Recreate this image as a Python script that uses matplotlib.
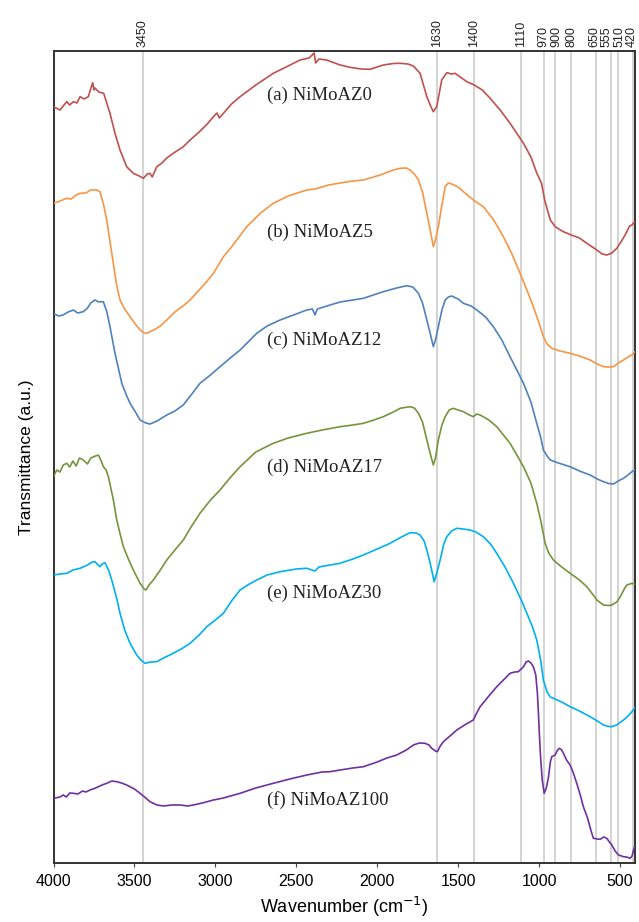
import numpy as np
import matplotlib
matplotlib.use("Agg")
import matplotlib.pyplot as plt
import matplotlib.transforms as mtransforms

# FTIR spectra of the NiMoAZ series (transmittance, arbitrary units, stacked)
w_a = [4000, 3960, 3918, 3900, 3877, 3855, 3836, 3810, 3785, 3758, 3750, 3744, 3720, 3690,
       3651, 3620, 3589, 3548, 3507, 3470, 3445, 3420, 3404, 3390, 3362, 3330, 3300, 3260,
       3200, 3156, 3100, 3050, 3012, 2990, 2975, 2900, 2847, 2750, 2642, 2550, 2477, 2420,
       2390, 2380, 2360, 2312, 2229, 2168, 2100, 2044, 1962, 1900, 1858, 1810, 1776, 1735,
       1693, 1670, 1653, 1632, 1601, 1570, 1540, 1519, 1446, 1400, 1384, 1350, 1302, 1240,
       1179, 1096, 1050, 1014, 985, 965, 948, 930, 900, 850, 800, 750, 705, 643, 610, 581,
       550, 519, 490, 468, 440, 426, 410]
t_a = [756.3, 753, 761.3, 758, 761.3, 760, 766.3, 764, 766.3, 780.3, 773, 775, 771, 769.7,
       749.7, 729.7, 713, 696.3, 689.7, 687, 684.7, 689, 689.7, 686, 696.3, 700, 705, 709.7,
       716, 723, 731, 739, 746.3, 750, 745, 759, 766.3, 778, 789.7, 797, 803, 805,
       810, 800, 804, 803, 798, 795.7, 794, 793.7, 798, 799.5, 799.7, 799, 797, 789.7,
       766.3, 757, 751.3, 756.3, 783, 790.3, 789, 789.7, 781.3, 778, 776.3, 773, 764.7, 753,
       739.7, 719.7, 706, 690, 680, 663, 653, 643, 636.3, 631.3, 628, 625, 619.7, 613, 609, 608,
       610, 614.7, 622, 628, 637, 638, 641]

w_b = [4000, 3960, 3918, 3890, 3860, 3836, 3800, 3770, 3733, 3713, 3690, 3671, 3640, 3610,
       3589, 3560, 3527, 3490, 3465, 3440, 3424, 3380, 3340, 3300, 3250, 3200, 3156, 3100,
       3050, 3012, 2950, 2900, 2806, 2720, 2642, 2550, 2435, 2384, 2300, 2229, 2150, 2085,
       1982, 1900, 1858, 1820, 1797, 1770, 1745, 1720, 1693, 1670, 1653, 1640, 1622, 1600,
       1580, 1560, 1539, 1500, 1467, 1406, 1344, 1280, 1220, 1170, 1117, 1075, 1035, 1000,
       973, 950, 921, 870, 808, 750, 684, 640, 602, 560, 540, 500, 478, 450, 426, 410]
t_b = [659.7, 662, 664.7, 664, 668, 669.7, 670, 673, 673, 671.3, 658, 643, 609.7, 578,
       563, 554, 546.3, 538, 533, 530, 529.7, 533, 537, 543, 551, 557, 563, 573,
       582, 589.7, 606.3, 616, 636.3, 650, 659.7, 667, 673, 674, 678, 680, 682, 683,
       688, 693, 694.7, 695, 693, 689, 683, 671, 649.7, 631, 616.3, 623, 636.3, 658,
       676.3, 680, 679, 676, 671.3, 663, 656.3, 643, 626.3, 610, 589.7, 573, 556.3, 540,
       526.3, 519, 514.7, 512, 509.7, 507, 503, 499, 496.3, 496, 496.3, 501, 503, 506, 508, 511]

w_c = [4000, 3970, 3940, 3910, 3877, 3850, 3816, 3790, 3770, 3744, 3720, 3692, 3670, 3651,
       3620, 3578, 3550, 3527, 3490, 3465, 3430, 3404, 3360, 3300, 3250, 3198, 3150, 3095,
       3030, 2971, 2900, 2847, 2744, 2680, 2600, 2500, 2435, 2400, 2384, 2370, 2291, 2229,
       2150, 2085, 1962, 1880, 1817, 1780, 1745, 1720, 1693, 1670, 1653, 1640, 1622, 1600,
       1580, 1560, 1539, 1500, 1467, 1420, 1384, 1330, 1282, 1230, 1179, 1140, 1096, 1050,
       1014, 990, 973, 950, 931, 880, 808, 750, 684, 640, 602, 570, 540, 510, 478, 450,
       426, 410]
t_c = [549.7, 547, 548, 551, 553, 550, 551.3, 555, 560, 563, 561, 561.3, 551, 536.3,
       509.7, 479.7, 468, 459.7, 450, 443, 440, 439, 442, 448, 452, 458, 468, 479.7,
       488, 496.3, 506, 513, 529.7, 537, 543, 549, 553, 554, 548, 554, 558, 561,
       563, 564.7, 571.3, 575, 577.3, 576, 569.7, 560, 543, 528, 516.3, 523, 536.3, 553,
       563, 566, 567, 564, 559.7, 557, 553, 546, 536.3, 523, 506.3, 494, 479.7, 461,
       439.7, 426, 413, 407, 403, 400, 396.3, 392, 388, 384, 381.3, 379.5, 379, 382, 384.7, 388,
       391.3, 393]

w_d = [4000, 3980, 3960, 3940, 3918, 3900, 3880, 3860, 3840, 3816, 3790, 3770, 3740, 3723,
       3705, 3692, 3675, 3661, 3630, 3609, 3590, 3568, 3540, 3507, 3465, 3440, 3428, 3410,
       3383, 3340, 3300, 3250, 3198, 3150, 3095, 3030, 2971, 2910, 2847, 2750, 2642, 2550,
       2435, 2340, 2229, 2150, 2085, 2020, 1962, 1900, 1858, 1797, 1770, 1745, 1720, 1693,
       1670, 1653, 1640, 1622, 1600, 1580, 1555, 1529, 1500, 1467, 1430, 1406, 1385, 1364,
       1310, 1261, 1220, 1179, 1137, 1096, 1050, 1014, 990, 962, 940, 911, 860, 808, 750,
       705, 660, 643, 602, 570, 550, 520, 498, 470, 457, 426, 410]
t_d = [386.3, 393, 391, 398, 399.7, 396, 402, 397, 405, 403, 399, 405, 407, 408,
       402, 396.3, 393, 386.3, 363, 343, 330, 316.3, 305, 293, 279.7, 274, 273, 278,
       283, 293, 303, 313, 323, 336, 349.7, 363, 373, 385, 396.3, 411, 419.7, 425,
       429.7, 433, 436.3, 438, 439.7, 443, 446.3, 451, 454.7, 456.3, 455, 449.7, 441, 423,
       408, 398, 405, 423, 438, 446.3, 453, 454.7, 453, 451.3, 448, 446.3, 449, 448,
       443, 436.3, 428, 419.7, 408, 396.3, 380, 359.7, 343, 319.7, 310, 303, 296, 289.7, 283,
       276.3, 267, 263, 258, 257.5, 258, 261, 266.3, 275, 278, 279.7, 279]

w_e = [4000, 3960, 3918, 3880, 3836, 3790, 3760, 3744, 3725, 3713, 3700, 3682, 3660, 3640,
       3610, 3589, 3560, 3527, 3500, 3486, 3460, 3434, 3400, 3362, 3320, 3260, 3200, 3156,
       3100, 3053, 3000, 2950, 2900, 2847, 2800, 2744, 2680, 2600, 2500, 2435, 2384, 2360,
       2291, 2229, 2150, 2085, 2000, 1920, 1850, 1797, 1760, 1735, 1710, 1693, 1670, 1648,
       1630, 1611, 1590, 1570, 1540, 1508, 1470, 1426, 1390, 1344, 1300, 1261, 1210, 1158,
       1110, 1075, 1040, 1014, 990, 973, 950, 930, 911, 860, 808, 750, 684, 640, 602, 570,
       550, 520, 478, 450, 426, 410]
t_e = [288, 289, 289.7, 293, 294.7, 298, 301, 301.3, 298, 296.3, 299, 300.3, 293, 283,
       265, 249.7, 233, 219.7, 212, 208, 203, 199.7, 201, 201.3, 205, 209.7, 215, 219.7,
       228, 236.3, 243, 249.7, 262, 273, 278, 283, 288, 291.3, 294, 294.7, 292, 296,
       298, 299.7, 304, 308, 314, 319.7, 326, 330.3, 330, 328, 322, 313, 298, 281.3,
       291, 303, 318, 326.3, 332, 334.7, 334, 333, 331, 326.3, 319, 309.7, 296, 279.7,
       263, 249.7, 236, 223, 203, 183, 171, 166, 164.7, 161, 156.3, 152, 146.3, 142, 138, 136.5,
       136.3, 138, 143, 147, 151.3, 155]

w_f = [4000, 3960, 3940, 3920, 3900, 3877, 3850, 3820, 3800, 3774, 3740, 3700, 3671, 3640,
       3609, 3580, 3548, 3500, 3465, 3430, 3404, 3360, 3321, 3270, 3218, 3170, 3136, 3080,
       3012, 2950, 2847, 2750, 2642, 2540, 2435, 2340, 2291, 2229, 2150, 2085, 2000, 1940,
       1879, 1820, 1776, 1740, 1704, 1680, 1663, 1640, 1628, 1610, 1591, 1550, 1508, 1460,
       1406, 1385, 1364, 1310, 1261, 1220, 1179, 1150, 1128, 1096, 1080, 1065, 1050, 1035,
       1020, 1010, 1003, 998, 992, 989, 980, 968, 955, 941, 930, 921, 901, 885, 874, 860,
       849, 830, 808, 790, 767, 745, 726, 700, 680, 664, 640, 622, 600, 581, 565, 550,
       530, 509, 490, 478, 460, 437, 425, 416, 410]
t_f = [64.7, 66, 68, 66, 70, 69.7, 69, 72, 71, 73, 75, 78, 79.7, 82,
       81.3, 80, 78, 74, 69.7, 65, 61.3, 58, 57, 58, 58, 57, 58, 60,
       63, 65, 69.7, 75, 79.7, 84, 88, 91, 91.3, 93, 95, 96.3, 101, 105,
       108, 113, 118, 120, 119.7, 118, 114.7, 112, 111.3, 117, 121.3, 127, 133, 138,
       143, 150, 156.3, 167, 176.3, 183, 189.7, 191, 191.3, 196.3, 201, 202, 200, 196.3,
       188, 169.7, 148, 129.7, 111, 103, 83, 69.7, 75, 86.3, 101, 106.3, 108, 113, 114.7, 113,
       109.7, 103, 98, 91, 79.7, 68, 56.3, 45, 33, 24.7, 24, 23.7, 26, 24.7, 21, 18,
       12, 8, 7, 6.3, 6, 4.7, 7, 13, 16]

series_w = [w_a, w_b, w_c, w_d, w_e, w_f]
series_t = [t_a, t_b, t_c, t_d, t_e, t_f]
series_labels = ["(a) NiMoAZ0", "(b) NiMoAZ5", "(c) NiMoAZ12",
                 "(d) NiMoAZ17", "(e) NiMoAZ30", "(f) NiMoAZ100"]
series_colors = ["#C0504D", "#F79646", "#4F81BD", "#77933C", "#00B0F0", "#7030A0"]
label_y = [768, 631, 523, 396, 270, 63]

band_positions = [3450, 1630, 1400, 1110, 970, 900, 800, 650, 555, 510, 420]
x_ticks = [4000, 3500, 3000, 2500, 2000, 1500, 1000, 500]

# horizontal nudges (points) so the crowded band labels sit side by side
band_label_shift = [0, 0, 0, 0, -0.6, 0.6, 0, -0.9, -3.0, 0.9, -0.7]

fig = plt.figure(figsize=(6.39, 9.22), dpi=100)
ax = fig.add_axes([53.5 / 639, 59 / 922, 581 / 639, 812 / 922])

# assignment guide lines with their band positions above the frame
trans = mtransforms.blended_transform_factory(ax.transData, ax.transAxes)
for b, dx in zip(band_positions, band_label_shift):
    ax.axvline(b, color="#c8c8c8", lw=1.1, zorder=1)
    ax.annotate(str(b), xy=(b, 1.0), xycoords=trans, xytext=(dx, 3),
                textcoords="offset points", rotation=90, ha="center", va="bottom",
                fontsize=9, family="Liberation Sans", color="#222222")

for w, t, lab, col, ly in zip(series_w, series_t, series_labels, series_colors, label_y):
    ax.plot(w, t, color=col, lw=1.2, zorder=3)
    ax.text(2680, ly, lab, ha="left", va="center", fontsize=13.5,
            family="Liberation Serif", color="#222222", zorder=4)

ax.set_xlim(4000, 410)
ax.set_ylim(0, 812)
ax.set_yticks([])
ax.set_xticks(x_ticks)
ax.set_xticklabels([str(v) for v in x_ticks], family="Liberation Sans", fontsize=11.5)
ax.tick_params(axis="x", length=3, width=0.8, pad=5, color="#444444")
for s in ax.spines.values():
    s.set_linewidth(1.4)
    s.set_color("#333333")

ax.set_xlabel("Wavenumber (cm$^{-1}$)", family="Liberation Sans", fontsize=13, labelpad=4)
ax.set_ylabel("Transmittance (a.u.)", family="Liberation Sans", fontsize=12.5, labelpad=14)

fig.savefig("out.png", dpi=100)
